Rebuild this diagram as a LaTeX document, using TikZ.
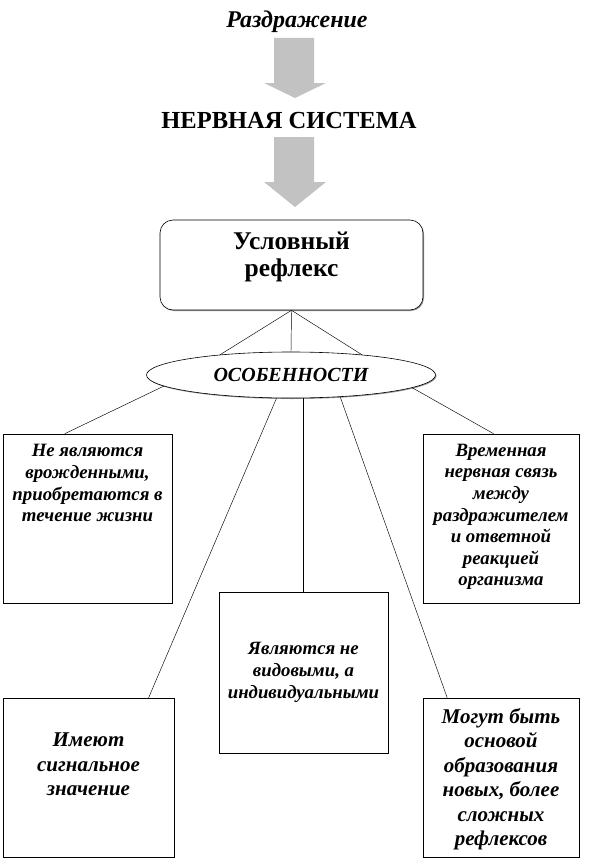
\documentclass[tikz,border=0pt]{standalone}
\usepackage{fontspec}
\setmainfont{Liberation Serif}
\usetikzlibrary{shapes.geometric,shadows}
\newcommand{\boxtext}[4]{\parbox[c][#2][t]{#1}{\vspace{#3}\centering #4\par}}
\begin{document}
\begin{tikzpicture}[x=1pt,y=-1pt,
  card/.style={draw=black, line width=0.6pt, inner sep=0pt, fill=white,
    drop shadow={shadow xshift=1pt, shadow yshift=-1pt, fill=black!40, opacity=1}},
  small/.style={font=\fontsize{18.8}{21.6}\selectfont\bfseries\itshape},
  large/.style={font=\fontsize{21}{24.5}\selectfont\bfseries\itshape},
  link/.style={draw=black, line width=0.45pt},
  blockarrow/.style={fill=black!24, draw=none}]
\useasboundingbox (0,0) rectangle (615,867);

% titles
\node[anchor=base, inner sep=0pt, font=\fontsize{24}{28}\selectfont\bfseries\itshape] (stim) at (297,28) {Раздражение};
\node[anchor=base, inner sep=0pt, font=\fontsize{24.5}{28}\selectfont\bfseries] (ns) at (289,128) {НЕРВНАЯ СИСТЕМА};

% block arrows
\fill[blockarrow] (274,38) -- (314,38) -- (314,83) -- (326,83) -- (295,98) -- (264,83) -- (274,83) -- cycle;
\fill[blockarrow] (274,137) -- (314,137) -- (314,182) -- (326,182) -- (295,207) -- (264,182) -- (274,182) -- cycle;

% main box
\node[card, rounded corners=13pt, font=\fontsize{25.5}{27}\selectfont\bfseries] (ur) at (291.5,265)
  {\boxtext{263pt}{90pt}{12pt}{Условный\\рефлекс}};

% ellipse
\node[ellipse, draw=black, line width=0.6pt, fill=white, minimum width=289pt, minimum height=46pt, inner sep=0pt,
  drop shadow={shadow xshift=1pt, shadow yshift=-1pt, fill=black!40, opacity=1},
  font=\fontsize{20}{22}\selectfont\bfseries\itshape] (os) at (291,375) {ОСОБЕННОСТИ};

% feature boxes
\node[card, small] (b1) at (87.5,518.5)
  {\boxtext{169pt}{169pt}{10.5pt}{Не являются\\врожденными,\\приобретаются в\\течение жизни}};
\node[card, small] (b2) at (501,518.5)
  {\boxtext{156pt}{169pt}{10pt}{Временная\\нервная связь\\между\\раздражителем\\и ответной\\реакцией\\организма}};
\node[card, small] (cb) at (303.5,672.5)
  {\boxtext{169pt}{161pt}{50.5pt}{Являются не\\видовыми, а\\индивидуальными}};
\node[card, large] (bl) at (88.5,777.5)
  {\boxtext{171pt}{159pt}{35pt}{Имеют\\сигнальное\\значение}};
\node[card, large] (br) at (501,777.5)
  {\boxtext{156pt}{159pt}{10pt}{Могут быть\\основой\\образования\\новых, более\\сложных\\рефлексов}};

% connectors
\draw[link] (ur.south) -- (os.164);
\draw[link] (ur.south) -- (os.north);
\draw[link] (ur.south) -- (os.16);
\draw[link] (os.185) -- (b1.105);
\draw[link] (os.354) -- (b2.95);
\draw[link] (os.238) -- (bl.53);
\draw[link] (os.south -| cb.north) -- (cb.north);
\draw[link] (os.336) -- (br.124);
\end{tikzpicture}
\end{document}
